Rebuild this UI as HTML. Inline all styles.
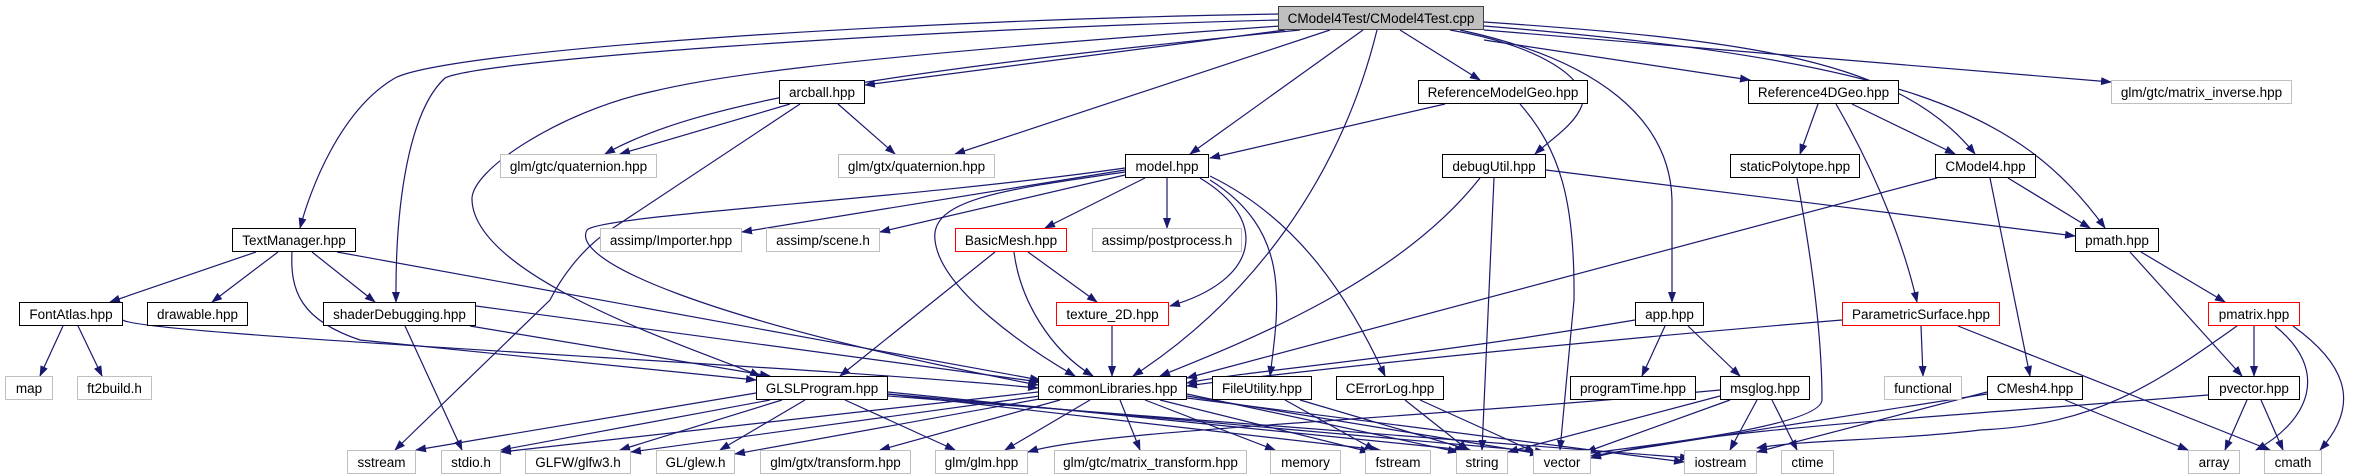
<!DOCTYPE html>
<html><head><meta charset="utf-8"><style>
html,body{margin:0;padding:0;background:#fff;}
body{width:2365px;height:476px;position:relative;overflow:hidden;font-family:"Liberation Sans",Arial,sans-serif;}
.n{position:absolute;height:22px;border:1px solid #000;background:#fff;display:flex;align-items:center;justify-content:center;font-size:13.5px;white-space:nowrap;color:#000;box-sizing:content-box;}
.g{border-color:#bfbfbf;}
.r{border-color:#ff0000;}
.m{background:#bfbfbf;border-color:#404040;}
svg{position:absolute;left:0;top:0;}
</style></head><body>
<svg width="2365" height="476" viewBox="0 0 2365 476">
<defs><marker id="a" markerWidth="11" markerHeight="8" refX="10" refY="4" orient="auto" markerUnits="userSpaceOnUse"><path d="M0,0L11,4L0,8z" fill="#191970"/></marker></defs>
<g fill="none" stroke="#191970" stroke-width="1.2" marker-end="url(#a)">
<path d="M1278,14 C900,20 450,50 395,78 C340,110 310,190 300,228"/>
<path d="M1278,20 C900,30 480,60 445,78 C410,110 395,200 396,302"/>
<path d="M1300,30 C900,70 700,100 605,154"/>
<path d="M1285,30 L865,85"/>
<path d="M1280,26 C800,60 700,80 650,92 C560,112 470,170 472,200 C475,280 700,350 760,376"/>
<path d="M1330,30 L955,154"/>
<path d="M1363,30 L1190,154"/>
<path d="M1377,30 C1340,180 1250,300 1133,376"/>
<path d="M1400,30 L1480,80"/>
<path d="M1450,30 C1540,45 1590,80 1582,105 C1575,125 1550,140 1535,154"/>
<path d="M1460,30 C1600,60 1670,120 1672,200 L1672,302"/>
<path d="M1484,40 L1750,80"/>
<path d="M1484,22 C1750,40 1900,60 1975,154"/>
<path d="M1484,26 C1900,60 2020,110 2105,228"/>
<path d="M1484,30 L2111,82"/>
<path d="M790,104 L620,154"/>
<path d="M838,104 L895,154"/>
<path d="M800,104 L610,230 C580,250 560,280 550,300 L395,450"/>
<path d="M1445,104 L1210,158"/>
<path d="M1520,104 C1560,150 1575,200 1574,300 L1560,450"/>
<path d="M1818,104 L1800,154"/>
<path d="M1852,104 L1955,154"/>
<path d="M1836,104 C1880,180 1905,250 1917,302"/>
<path d="M1125,170 L742,232"/>
<path d="M1125,175 L880,232"/>
<path d="M1145,178 L1045,228"/>
<path d="M1167,178 L1167,228"/>
<path d="M1200,178 C1270,220 1260,280 1170,306"/>
<path d="M1125,172 C1000,190 930,200 935,240 C940,290 1030,350 1075,376"/>
<path d="M1125,168 C900,200 600,215 587,230 C570,260 700,320 1038,385"/>
<path d="M1210,180 C1290,230 1280,300 1270,376"/>
<path d="M1210,176 C1300,220 1350,300 1385,376"/>
<path d="M1546,170 L2075,236"/>
<path d="M1480,178 C1400,280 1250,340 1160,376"/>
<path d="M1494,178 L1482,450"/>
<path d="M1797,178 C1810,250 1822,330 1822,400 C1820,430 1600,450 1580,455"/>
<path d="M2008,178 L2090,228"/>
<path d="M1937,178 L1187,378"/>
<path d="M1990,178 L2030,376"/>
<path d="M256,252 L110,302"/>
<path d="M278,252 L212,302"/>
<path d="M312,252 L375,302"/>
<path d="M292,252 C290,290 300,320 360,340 L756,380"/>
<path d="M337,252 L1040,380"/>
<path d="M995,252 L840,376"/>
<path d="M1014,252 C1020,300 1050,350 1093,376"/>
<path d="M1028,252 L1097,302"/>
<path d="M2141,252 L2225,302"/>
<path d="M2130,252 L2242,376"/>
<path d="M63,326 L40,376"/>
<path d="M78,326 L102,376"/>
<path d="M123,320 C140,335 800,365 1038,388"/>
<path d="M476,306 L1040,382"/>
<path d="M470,326 L770,376"/>
<path d="M405,326 L462,450"/>
<path d="M1112,326 L1112,376"/>
<path d="M1635,320 C1400,360 1250,370 1187,383"/>
<path d="M1665,326 L1642,376"/>
<path d="M1688,326 L1740,376"/>
<path d="M1842,320 C1600,340 1300,370 1187,386"/>
<path d="M1921,326 L1923,376"/>
<path d="M1958,326 L2270,450"/>
<path d="M2254,326 L2254,376"/>
<path d="M2237,326 C2160,380 2100,425 1980,430 C1900,440 1800,440 1757,448"/>
<path d="M2275,326 C2330,370 2310,420 2256,450"/>
<path d="M2293,326 C2340,360 2365,400 2320,450"/>
<path d="M2247,400 L2225,450"/>
<path d="M2261,400 L2283,450"/>
<path d="M2208,395 C1900,420 1700,430 1591,458"/>
<path d="M756,393 L416,450"/>
<path d="M770,400 L501,450"/>
<path d="M782,400 L620,450"/>
<path d="M805,400 L720,450"/>
<path d="M845,400 L955,450"/>
<path d="M888,392 L1465,450"/>
<path d="M888,394 L1545,452"/>
<path d="M888,396 L1690,458"/>
<path d="M888,394 L1380,450"/>
<path d="M1038,392 L501,452"/>
<path d="M1040,396 L631,452"/>
<path d="M1045,398 L735,454"/>
<path d="M1060,400 L880,450"/>
<path d="M1090,400 L1005,450"/>
<path d="M1120,400 L1140,450"/>
<path d="M1145,400 L1275,450"/>
<path d="M1160,400 L1370,452"/>
<path d="M1187,394 L1458,452"/>
<path d="M1187,396 L1540,454"/>
<path d="M1187,398 L1684,462"/>
<path d="M1285,400 L1375,450"/>
<path d="M1300,400 L1470,450"/>
<path d="M1405,400 L1468,450"/>
<path d="M1420,400 L1535,452"/>
<path d="M1757,400 L1730,450"/>
<path d="M1772,400 L1797,450"/>
<path d="M1730,400 L1586,452"/>
<path d="M1720,396 L1508,452"/>
<path d="M1720,390 C1400,420 1100,430 1028,452"/>
<path d="M1987,394 L1591,456"/>
<path d="M1987,392 L1757,452"/>
<path d="M2065,400 L2188,450"/>
</g>
</svg>
<div class="n m" style="left:1278px;top:6px;width:204px">CModel4Test/CModel4Test.cpp</div>
<div class="n" style="left:779px;top:80px;width:84px">arcball.hpp</div>
<div class="n" style="left:1418px;top:80px;width:168px">ReferenceModelGeo.hpp</div>
<div class="n" style="left:1748px;top:80px;width:149px">Reference4DGeo.hpp</div>
<div class="n g" style="left:2111px;top:80px;width:179px">glm/gtc/matrix_inverse.hpp</div>
<div class="n g" style="left:500px;top:154px;width:155px">glm/gtc/quaternion.hpp</div>
<div class="n g" style="left:838px;top:154px;width:155px">glm/gtx/quaternion.hpp</div>
<div class="n" style="left:1125px;top:154px;width:82px">model.hpp</div>
<div class="n" style="left:1442px;top:154px;width:102px">debugUtil.hpp</div>
<div class="n" style="left:1730px;top:154px;width:128px">staticPolytope.hpp</div>
<div class="n" style="left:1935px;top:154px;width:99px">CModel4.hpp</div>
<div class="n" style="left:232px;top:228px;width:122px">TextManager.hpp</div>
<div class="n g" style="left:600px;top:228px;width:140px">assimp/Importer.hpp</div>
<div class="n g" style="left:766px;top:228px;width:112px">assimp/scene.h</div>
<div class="n r" style="left:955px;top:228px;width:110px">BasicMesh.hpp</div>
<div class="n g" style="left:1092px;top:228px;width:148px">assimp/postprocess.h</div>
<div class="n" style="left:2075px;top:228px;width:82px">pmath.hpp</div>
<div class="n" style="left:19px;top:302px;width:102px">FontAtlas.hpp</div>
<div class="n" style="left:147px;top:302px;width:99px">drawable.hpp</div>
<div class="n" style="left:323px;top:302px;width:151px">shaderDebugging.hpp</div>
<div class="n r" style="left:1056px;top:302px;width:111px">texture_2D.hpp</div>
<div class="n" style="left:1635px;top:302px;width:67px">app.hpp</div>
<div class="n r" style="left:1842px;top:302px;width:156px">ParametricSurface.hpp</div>
<div class="n r" style="left:2208px;top:302px;width:90px">pmatrix.hpp</div>
<div class="n g" style="left:5px;top:376px;width:46px">map</div>
<div class="n g" style="left:77px;top:376px;width:73px">ft2build.h</div>
<div class="n" style="left:756px;top:376px;width:130px">GLSLProgram.hpp</div>
<div class="n" style="left:1038px;top:376px;width:147px">commonLibraries.hpp</div>
<div class="n" style="left:1212px;top:376px;width:98px">FileUtility.hpp</div>
<div class="n" style="left:1336px;top:376px;width:106px">CErrorLog.hpp</div>
<div class="n" style="left:1570px;top:376px;width:124px">programTime.hpp</div>
<div class="n" style="left:1720px;top:376px;width:88px">msglog.hpp</div>
<div class="n g" style="left:1884px;top:376px;width:76px">functional</div>
<div class="n" style="left:1987px;top:376px;width:94px">CMesh4.hpp</div>
<div class="n" style="left:2208px;top:376px;width:90px">pvector.hpp</div>
<div class="n g" style="left:347px;top:450px;width:67px">sstream</div>
<div class="n g" style="left:441px;top:450px;width:58px">stdio.h</div>
<div class="n g" style="left:525px;top:450px;width:104px">GLFW/glfw3.h</div>
<div class="n g" style="left:656px;top:450px;width:77px">GL/glew.h</div>
<div class="n g" style="left:760px;top:450px;width:149px">glm/gtx/transform.hpp</div>
<div class="n g" style="left:935px;top:450px;width:91px">glm/glm.hpp</div>
<div class="n g" style="left:1054px;top:450px;width:191px">glm/gtc/matrix_transform.hpp</div>
<div class="n g" style="left:1270px;top:450px;width:69px">memory</div>
<div class="n g" style="left:1365px;top:450px;width:64px">fstream</div>
<div class="n g" style="left:1456px;top:450px;width:50px">string</div>
<div class="n g" style="left:1533px;top:450px;width:56px">vector</div>
<div class="n g" style="left:1684px;top:450px;width:71px">iostream</div>
<div class="n g" style="left:1781px;top:450px;width:51px">ctime</div>
<div class="n g" style="left:2188px;top:450px;width:50px">array</div>
<div class="n g" style="left:2264px;top:450px;width:56px">cmath</div>
</body></html>
